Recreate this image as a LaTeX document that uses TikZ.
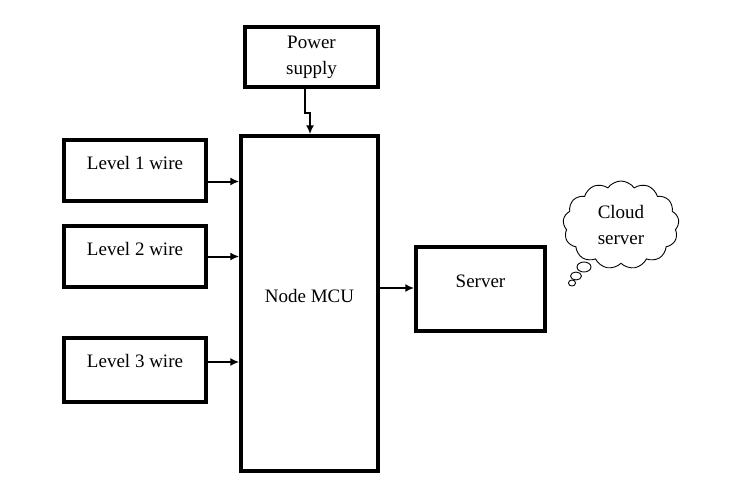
\documentclass[tikz,border=0pt]{standalone}
\usepackage{fontspec}
\setmainfont{Liberation Serif}
\usetikzlibrary{shapes.symbols,arrows.meta}
\begin{document}
\begin{tikzpicture}
        [x=1pt, y=-1pt, box/.style={draw, line width=3.4pt, inner sep=0pt, align=center, font=\fontsize{19}{26}\selectfont},
        link/.style={line width=2pt, -{Latex[length=9pt,width=8pt]}}]

        \useasboundingbox (0,0) rectangle (737,503);

        \node[box, minimum width=133pt, minimum height=60pt] (power) at (311.5,57) {Power\\supply};
        \node[box, minimum width=137pt, minimum height=335pt] (mcu) at (309.5,303.5) {};
        \node[box, minimum width=142pt, minimum height=61pt] (l1) at (135,170.5) {};
        \node[box, minimum width=142pt, minimum height=61pt] (l2) at (135,256.5) {};
        \node[box, minimum width=142pt, minimum height=64pt] (l3) at (135,370) {};
        \node[box, minimum width=129pt, minimum height=84pt] (server) at (480.5,289) {};

        % labels sit a little above the box centres
        \node[box, draw=none] (l1txt) at (135,163) {Level 1 wire};
        \node[box, draw=none] (l2txt) at (135,249) {Level 2 wire};
        \node[box, draw=none] (l3txt) at (135,361) {Level 3 wire};
        \node[box, draw=none] (mcutxt) at (309.5,296) {Node MCU};
        \node[box, draw=none] (servertxt) at (480.5,281) {Server};

        % cloud with its thought bubbles
        \node[cloud, draw, line width=0.9pt, cloud puffs=13, cloud puff arc=110, aspect=1.3,
              minimum width=116pt, minimum height=88pt, align=center,
              font=\fontsize{19}{26}\selectfont] (cloud) at (621,225) {Cloud\\server};
        \draw[line width=0.9pt] (584,267) ellipse (7pt and 5pt);
        \draw[line width=0.9pt] (576,276) ellipse (5.5pt and 4pt);
        \draw[line width=0.9pt] (572,283) ellipse (3.5pt and 3pt);

        \coordinate (bend) at (305,113);
        \draw[link] (power.south -| bend) -- (bend) -- ++(5,0) -- (mcu.north -| 310,0);
        \draw[link] (l1.east) ++(0,11) -- (mcu.west |- 0,181.5);
        \draw[link] (l2.east) -- (mcu.west |- l2.east);
        \draw[link] (l3.east) ++(0,-8) -- (mcu.west |- 0,362);
        \draw[link] (mcu.east |- 0,288) -- (server.west |- 0,288);
\end{tikzpicture}
\end{document}
